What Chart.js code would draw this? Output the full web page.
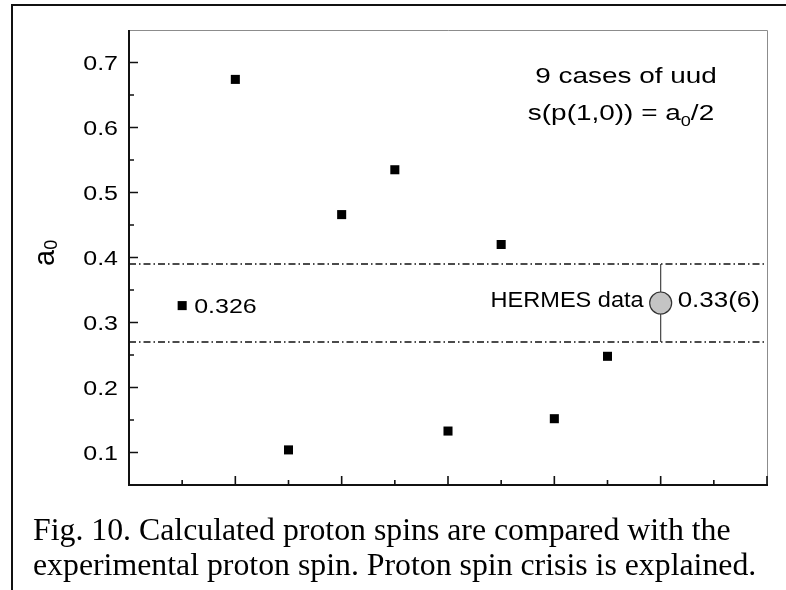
<!DOCTYPE html>
<html>
<head>
<meta charset="utf-8">
<script src="https://cdn.jsdelivr.net/npm/chart.js@4.4.3/dist/chart.umd.min.js"></script>
<style>
  html, body { margin: 0; padding: 0; background: #fff; overflow: hidden; }
  #wrap { position: relative; width: 786px; height: 590px; overflow: hidden; }
  #frame { position: absolute; left: 11px; top: 4px; width: 900px; height: 700px; border-left: 2px solid #111; border-top: 2px solid #111; }
  #chart { position: absolute; left: 0; top: 0; }
  .caption { position: absolute; left: 33px; font-family: "Liberation Serif", "Times New Roman", serif; font-size: 31.8px; line-height: 35px; color: #000; white-space: nowrap; }
</style>
</head>
<body>
<div id="wrap">
  <div id="frame"></div>
  <canvas id="chart" width="786" height="590"></canvas>
  <div class="caption" style="top:512px">Fig. 10. Calculated proton spins are compared with the</div>
  <div class="caption" style="top:547px">experimental proton spin. Proton spin crisis is explained.</div>
</div>
<script>
// data
const caseIndex = [1, 2, 3, 4, 5, 6, 7, 8, 9];
const a0Values = [0.326, 0.674, 0.104, 0.466, 0.535, 0.133, 0.420, 0.152, 0.248];
const hermesX = 10;
const hermesValue = 0.33;
const hermesError = 0.06;
const bandLimits = [0.27, 0.39];
const xRange = [0, 12];
const yRange = [0.05, 0.75];
const yTickValues = [0.1, 0.2, 0.3, 0.4, 0.5, 0.6, 0.7];
const yMinorTickValues = [0.15, 0.25, 0.35, 0.45, 0.55, 0.65];
const pointLabel = "0.326";
const hermesLabel = "HERMES data";
const hermesValueLabel = "0.33(6)";
const yTitle = ["a", "0"];

const sansFont = '"Liberation Sans", Arial, sans-serif';
const textColor = "#000";

// draws runs of text, some of them as subscripts, stretched horizontally by sx
function drawRuns(ctx, runs, x, y, size, align, sx) {
  ctx.save();
  ctx.fillStyle = textColor;
  ctx.textBaseline = "alphabetic";
  ctx.textAlign = "left";
  const parts = runs.map(r => {
    const s = r.sub ? size * 0.65 : size;
    ctx.font = s + "px " + sansFont;
    return { t: r.t, s, dy: r.sub ? size * 0.25 : 0, w: ctx.measureText(r.t).width };
  });
  const total = parts.reduce((a, p) => a + p.w, 0);
  ctx.translate(x, y);
  ctx.scale(sx, 1);
  let cx = align === "right" ? -total : align === "center" ? -total / 2 : 0;
  parts.forEach(p => {
    ctx.font = p.s + "px " + sansFont;
    ctx.fillText(p.t, cx, p.dy);
    cx += p.w;
  });
  ctx.restore();
}

const framePlugin = {
  id: "frame",
  beforeDatasetsDraw(chart) {
    const { ctx, chartArea: a, scales: { x, y } } = chart;
    ctx.save();
    // top and right gray frame
    ctx.strokeStyle = "#8c8c8c";
    ctx.lineWidth = 1;
    ctx.beginPath();
    ctx.moveTo(a.left, a.top + 0.5);
    ctx.lineTo(a.right + 0.5, a.top + 0.5);
    ctx.lineTo(a.right + 0.5, a.bottom);
    ctx.stroke();
    // left and bottom black axes
    ctx.strokeStyle = "#111";
    ctx.lineWidth = 2;
    ctx.beginPath();
    ctx.moveTo(a.left, a.top);
    ctx.lineTo(a.left, a.bottom);
    ctx.lineTo(a.right + 1, a.bottom);
    ctx.stroke();
    // inward ticks
    ctx.lineWidth = 1.6;
    ctx.beginPath();
    x.ticks.forEach(t => {
      const px = x.getPixelForValue(t.value);
      const len = t.value % 2 === 0 ? 9 : 5;
      ctx.moveTo(px, a.bottom);
      ctx.lineTo(px, a.bottom - len);
    });
    y.ticks.forEach(t => {
      const py = y.getPixelForValue(t.value);
      ctx.moveTo(a.left, py);
      ctx.lineTo(a.left + 9, py);
    });
    yMinorTickValues.forEach(v => {
      const py = y.getPixelForValue(v);
      ctx.moveTo(a.left, py);
      ctx.lineTo(a.left + 5, py);
    });
    ctx.stroke();
    ctx.restore();
    // y tick labels
    y.ticks.forEach(t => {
      drawRuns(ctx, [{ t: t.value.toFixed(1) }], a.left - 11, y.getPixelForValue(t.value) + 7.5, 20.5, "right", 1.22);
    });
    // y axis title, rotated
    ctx.save();
    ctx.fillStyle = textColor;
    ctx.translate(54, 266);
    ctx.rotate(-Math.PI / 2);
    ctx.font = "29px " + sansFont;
    ctx.fillText(yTitle[0], 0, 0);
    const w = ctx.measureText(yTitle[0]).width;
    ctx.font = "18px " + sansFont;
    ctx.fillText(yTitle[1], w, 3);
    ctx.restore();
  },
  afterDatasetsDraw(chart) {
    const { ctx, chartArea: a, scales: { x, y } } = chart;
    drawRuns(ctx, [{ t: pointLabel }], x.getPixelForValue(caseIndex[0]) + 12, y.getPixelForValue(a0Values[0]) + 7.5, 20.5, "left", 1.22);
    drawRuns(ctx, [{ t: hermesLabel }], x.getPixelForValue(hermesX) - 17, y.getPixelForValue(hermesValue) + 4, 22, "right", 1.07);
    drawRuns(ctx, [{ t: hermesValueLabel }], x.getPixelForValue(hermesX) + 17, y.getPixelForValue(hermesValue) + 4, 22, "left", 1.18);
    drawRuns(ctx, [{ t: "9 cases of uud" }], a.right - 141, a.top + 53, 22, "center", 1.27);
    drawRuns(ctx, [{ t: "s(p(1,0)) = a" }, { t: "0", sub: true }, { t: "/2" }], a.right - 146, a.top + 90, 22, "center", 1.27);
  }
};

const squareData = caseIndex.map((c, i) => ({ x: c, y: a0Values[i] }));

new Chart(document.getElementById("chart"), {
  type: "scatter",
  data: {
    datasets: [
      { data: squareData, pointStyle: "rect", pointRadius: 6.4, backgroundColor: "#000", borderWidth: 0 },
      { data: [{ x: hermesX, y: hermesValue }], pointStyle: "circle", pointRadius: 11, backgroundColor: "#c4c4c4", borderColor: "#333", borderWidth: 1.2 },
      { data: [{ x: hermesX, y: hermesValue - hermesError }, { x: hermesX, y: hermesValue + hermesError }], showLine: true, borderColor: "#444", borderWidth: 1.2, pointRadius: 0 },
      ...bandLimits.map(v => ({
        data: [{ x: xRange[0], y: v }, { x: xRange[1], y: v }],
        showLine: true, borderColor: "#111", borderWidth: 1.4, borderDash: [7, 3, 1.5, 3], pointRadius: 0
      }))
    ]
  },
  options: {
    responsive: false,
    animation: false,
    layout: { padding: { left: 129, top: 30, right: 19, bottom: 105 } },
    plugins: { legend: { display: false }, tooltip: { enabled: false } },
    scales: {
      x: {
        type: "linear", min: xRange[0], max: xRange[1],
        ticks: { display: false, stepSize: 1 },
        grid: { display: false }, border: { display: false },
        afterFit: s => { s.height = 0; }
      },
      y: {
        type: "linear", min: yRange[0], max: yRange[1],
        ticks: { display: false },
        grid: { display: false }, border: { display: false },
        afterBuildTicks: s => { s.ticks = yTickValues.map(v => ({ value: v })); },
        afterFit: s => { s.width = 0; }
      }
    }
  },
  plugins: [framePlugin]
});
</script>
</body>
</html>
